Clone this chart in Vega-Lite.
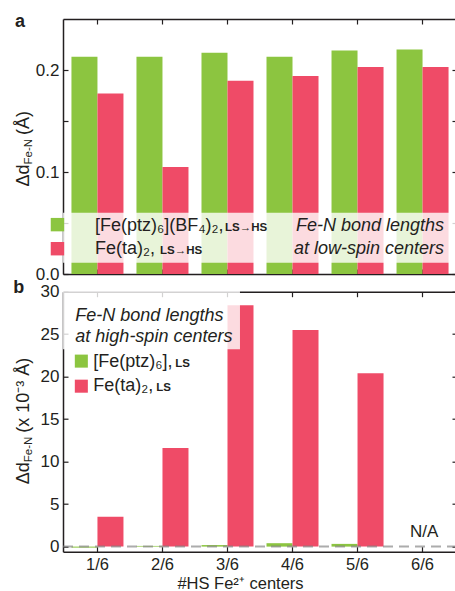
{
  "$schema": "https://vega.github.io/schema/vega-lite/v6.json",
  "background": "white",
  "padding": {"left": 13, "top": 13, "right": 0, "bottom": 0},
  "spacing": 17.7,
  "bounds": "flush",
  "config": {
    "font": "Liberation Sans",
    "view": {"stroke": null},
    "axis": {"domainColor": "#231f20", "domainWidth": 1.5, "tickColor": "#231f20", "tickWidth": 1.2, "tickSize": -5, "labelFontSize": 17, "labelColor": "#231f20", "titleColor": "#231f20", "titleFontWeight": "normal", "titleFont": "Liberation Sans", "labelFont": "Liberation Sans", "grid": false},
    "axisX": {"labelPadding": 9.5, "labelFontSize": 16.5},
    "axisY": {"labelPadding": 9},
    "text": {"font": "Liberation Sans", "color": "#231f20"}
  },
  "datasets": {
    "lowspin": [
      {"hs": "1/6", "series": "ptz", "d": 0.213}, {"hs": "1/6", "series": "ta", "d": 0.177},
      {"hs": "2/6", "series": "ptz", "d": 0.213}, {"hs": "2/6", "series": "ta", "d": 0.105},
      {"hs": "3/6", "series": "ptz", "d": 0.217}, {"hs": "3/6", "series": "ta", "d": 0.1895},
      {"hs": "4/6", "series": "ptz", "d": 0.213}, {"hs": "4/6", "series": "ta", "d": 0.194},
      {"hs": "5/6", "series": "ptz", "d": 0.219}, {"hs": "5/6", "series": "ta", "d": 0.203},
      {"hs": "6/6", "series": "ptz", "d": 0.220}, {"hs": "6/6", "series": "ta", "d": 0.203}
    ],
    "highspin": [
      {"hs": "1/6", "series": "ptz", "d": -0.12}, {"hs": "1/6", "series": "ta", "d": 3.5},
      {"hs": "2/6", "series": "ptz", "d": 0.08}, {"hs": "2/6", "series": "ta", "d": 11.6},
      {"hs": "3/6", "series": "ptz", "d": 0.18}, {"hs": "3/6", "series": "ta", "d": 28.4},
      {"hs": "4/6", "series": "ptz", "d": 0.4}, {"hs": "4/6", "series": "ta", "d": 25.5},
      {"hs": "5/6", "series": "ptz", "d": 0.32}, {"hs": "5/6", "series": "ta", "d": 20.4}
    ],
    "legA": [
      {"series": "ptz", "hs": "1/6", "label": "[Fe(ptz)₆](BF₄)₂,", "tag": "LS→HS", "ty": 0.0425, "sy": 0.0484},
      {"series": "ta", "hs": "1/6", "label": "Fe(ta)₂,", "tag": "LS→HS", "ty": 0.02, "sy": 0.0248}
    ],
    "notesA": [
      {"hs": "6/6", "note": "Fe-N bond lengths", "ny": 0.0425},
      {"hs": "6/6", "note": "at low-spin centers", "ny": 0.02}
    ],
    "legB": [
      {"series": "ptz", "hs": "1/6", "label": "[Fe(ptz)₆],", "tag": "LS", "ty": 21.08, "sy": 21.83},
      {"series": "ta", "hs": "1/6", "label": "Fe(ta)₂,", "tag": "LS", "ty": 18.33, "sy": 18.88}
    ],
    "notesB": [
      {"hs": "1/6", "note": "Fe-N bond lengths", "ny": 26.6},
      {"hs": "1/6", "note": "at high-spin centers", "ny": 24.03}
    ],
    "naB": [
      {"hs": "6/6", "note": "N/A", "ny": 1.1}
    ],
    "panelA": [{"hs": "1/6", "p": "a"}],
    "panelB": [{"hs": "1/6", "p": "b"}]
  },
  "vconcat": [
    {
      "width": 394,
      "height": 255,
      "resolve": {"axis": {"x": "independent", "y": "independent"}},
      "layer": [
        {
          "data": {"name": "lowspin"},
          "mark": {"type": "bar"},
          "encoding": {
            "x": {"field": "hs", "type": "nominal", "scale": {"domain": ["1/6", "2/6", "3/6", "4/6", "5/6", "6/6"], "paddingInner": 0.2, "paddingOuter": 0.13}, "axis": {"orient": "bottom", "labels": false, "title": null}},
            "xOffset": {"field": "series", "type": "nominal", "scale": {"domain": ["ptz", "ta"], "paddingInner": 0, "paddingOuter": 0}},
            "y": {"field": "d", "type": "quantitative", "scale": {"domain": [0, 0.25], "nice": false}, "axis": {"orient": "left", "values": [0, 0.05, 0.1, 0.15, 0.2], "labelExpr": "(abs(datum.value) < 0.001 || abs(datum.value - 0.1) < 0.001 || abs(datum.value - 0.2) < 0.001) ? format(datum.value, '.1f') : ''", "title": "Δd", "titleX": -34.5, "titleY": 167, "titleAngle": 270, "titleAlign": "left", "titleBaseline": "alphabetic", "titleFontSize": 18}},
            "color": {"field": "series", "type": "nominal", "scale": {"domain": ["ptz", "ta"], "range": ["#8cc540", "#ef4b67"]}, "legend": null}
          }
        },
        {
          "data": {"name": "lowspin"},
          "mark": {"type": "bar", "opacity": 0},
          "encoding": {
            "x": {"field": "hs", "type": "nominal", "axis": {"orient": "top", "labels": false, "title": "Fe-N", "titleX": -31.5, "titleY": 145, "titleAngle": 270, "titleAlign": "left", "titleBaseline": "alphabetic", "titleFontSize": 11.5}},
            "xOffset": {"field": "series", "type": "nominal"},
            "y": {"field": "d", "type": "quantitative", "axis": {"orient": "right", "values": [0, 0.05, 0.1, 0.15, 0.2], "labels": false, "title": "(Å)", "titleX": -428.5, "titleY": 115.5, "titleAngle": 270, "titleAlign": "left", "titleBaseline": "alphabetic", "titleFontSize": 18}}
          }
        },
        {
          "data": {"values": [{}]},
          "mark": {"type": "rect", "color": "white", "opacity": 0.8},
          "encoding": {
            "y": {"datum": 0.011, "type": "quantitative", "axis": null},
            "y2": {"datum": 0.06}
          }
        },
        {
          "data": {"name": "legA"},
          "mark": {"type": "square", "size": 180, "opacity": 1},
          "encoding": {
            "x": {"field": "hs", "type": "nominal", "axis": null},
            "xOffset": {"value": -14},
            "y": {"field": "sy", "type": "quantitative", "axis": null},
            "color": {"field": "series", "type": "nominal", "legend": null}
          }
        },
        {
          "data": {"name": "legA"},
          "mark": {"type": "text", "align": "left", "baseline": "alphabetic", "dx": -2.5, "fontSize": 18},
          "encoding": {
            "x": {"field": "hs", "type": "nominal", "axis": null},
            "y": {"field": "ty", "type": "quantitative", "axis": null},
            "text": {"field": "label"}
          }
        },
        {
          "data": {"name": "legA"},
          "transform": [{"filter": "datum.series === 'ptz'"}],
          "mark": {"type": "text", "align": "left", "baseline": "alphabetic", "dx": 127.5, "fontSize": 11.5, "fontWeight": "bold"},
          "encoding": {
            "x": {"field": "hs", "type": "nominal", "axis": null},
            "y": {"field": "ty", "type": "quantitative", "axis": null},
            "text": {"field": "tag"}
          }
        },
        {
          "data": {"name": "legA"},
          "transform": [{"filter": "datum.series === 'ta'"}],
          "mark": {"type": "text", "align": "left", "baseline": "alphabetic", "dx": 62.5, "fontSize": 11.5, "fontWeight": "bold"},
          "encoding": {
            "x": {"field": "hs", "type": "nominal", "axis": null},
            "y": {"field": "ty", "type": "quantitative", "axis": null},
            "text": {"field": "tag"}
          }
        },
        {
          "data": {"name": "notesA"},
          "mark": {"type": "text", "align": "right", "baseline": "alphabetic", "dx": 21.5, "fontSize": 18, "fontStyle": "italic"},
          "encoding": {
            "x": {"field": "hs", "type": "nominal", "axis": null},
            "y": {"field": "ny", "type": "quantitative", "axis": null},
            "text": {"field": "note"}
          }
        },
        {
          "data": {"name": "panelA"},
          "mark": {"type": "text", "align": "left", "baseline": "alphabetic", "dx": -82.5, "dy": 8, "fontSize": 18, "fontWeight": "bold"},
          "encoding": {
            "x": {"field": "hs", "type": "nominal", "axis": null},
            "y": {"datum": 0.25, "type": "quantitative", "axis": null},
            "text": {"field": "p"}
          }
        }
      ]
    },
    {
      "width": 394,
      "height": 260,
      "resolve": {"scale": {"x": "independent"}, "axis": {"x": "independent", "y": "independent"}},
      "layer": [
        {
          "data": {"name": "highspin"},
          "mark": {"type": "bar"},
          "encoding": {
            "x": {"field": "hs", "type": "nominal", "scale": {"domain": ["1/6", "2/6", "3/6", "4/6", "5/6", "6/6"], "paddingInner": 0.2, "paddingOuter": 0.13}, "axis": {"orient": "bottom", "labelAngle": 0, "title": "#HS Fe²⁺ centers", "titleX": 177, "titleY": 36.5, "titleAlign": "center", "titleBaseline": "alphabetic", "titleFontSize": 16.5}},
            "xOffset": {"field": "series", "type": "nominal", "scale": {"domain": ["ptz", "ta"], "paddingInner": 0, "paddingOuter": 0}},
            "y": {"field": "d", "type": "quantitative", "scale": {"domain": [-0.6, 30], "nice": false, "zero": false}, "axis": {"orient": "left", "values": [0, 5, 10, 15, 20, 25, 30], "format": "d", "title": "Δd", "titleX": -34.5, "titleY": 192, "titleAngle": 270, "titleAlign": "left", "titleBaseline": "alphabetic", "titleFontSize": 18}},
            "color": {"field": "series", "type": "nominal", "scale": {"domain": ["ptz", "ta"], "range": ["#8cc540", "#ef4b67"]}, "legend": null}
          }
        },
        {
          "data": {"name": "highspin"},
          "mark": {"type": "bar", "opacity": 0},
          "encoding": {
            "x": {"field": "hs", "type": "nominal", "scale": {"domain": ["1/6", "2/6", "3/6", "4/6", "5/6", "6/6"], "paddingInner": 0.2, "paddingOuter": 0.13}, "axis": {"orient": "top", "labels": false, "title": "Fe-N", "titleX": -31.5, "titleY": 170, "titleAngle": 270, "titleAlign": "left", "titleBaseline": "alphabetic", "titleFontSize": 11.5}},
            "xOffset": {"field": "series", "type": "nominal", "scale": {"domain": ["ptz", "ta"], "paddingInner": 0, "paddingOuter": 0}},
            "y": {"field": "d", "type": "quantitative", "axis": {"orient": "right", "values": [0, 5, 10, 15, 20, 25, 30], "labels": false, "title": "(x 10⁻³ Å)", "titleX": -428.5, "titleY": 140.5, "titleAngle": 270, "titleAlign": "left", "titleBaseline": "alphabetic", "titleFontSize": 18}}
          }
        },
        {
          "data": {"values": [{}]},
          "mark": {"type": "rule", "color": "#7f7f7f", "opacity": 0.65, "strokeWidth": 2, "strokeDash": [10, 6]},
          "encoding": {
            "y": {"datum": 0, "type": "quantitative", "axis": null}
          }
        },
        {
          "data": {"values": [{}]},
          "mark": {"type": "rect", "color": "white", "opacity": 0.8},
          "encoding": {
            "x": {"datum": 0, "type": "quantitative", "scale": {"domain": [0, 6], "nice": false, "zero": false}, "axis": null},
            "x2": {"datum": 2.695},
            "y": {"datum": 23.24, "type": "quantitative", "axis": null},
            "y2": {"datum": 30.6}
          }
        },
        {
          "data": {"name": "notesB"},
          "mark": {"type": "text", "align": "left", "baseline": "alphabetic", "dx": -20.5, "fontSize": 18, "fontStyle": "italic"},
          "encoding": {
            "x": {"field": "hs", "type": "nominal", "scale": {"domain": ["1/6", "2/6", "3/6", "4/6", "5/6", "6/6"], "paddingInner": 0.2, "paddingOuter": 0.13}, "axis": null},
            "y": {"field": "ny", "type": "quantitative", "axis": null},
            "text": {"field": "note"}
          }
        },
        {
          "data": {"name": "legB"},
          "mark": {"type": "square", "size": 170, "opacity": 1},
          "encoding": {
            "x": {"field": "hs", "type": "nominal", "scale": {"domain": ["1/6", "2/6", "3/6", "4/6", "5/6", "6/6"], "paddingInner": 0.2, "paddingOuter": 0.13}, "axis": null},
            "xOffset": {"value": -14.5},
            "y": {"field": "sy", "type": "quantitative", "axis": null},
            "color": {"field": "series", "type": "nominal", "legend": null}
          }
        },
        {
          "data": {"name": "legB"},
          "mark": {"type": "text", "align": "left", "baseline": "alphabetic", "dx": -2.5, "fontSize": 18},
          "encoding": {
            "x": {"field": "hs", "type": "nominal", "scale": {"domain": ["1/6", "2/6", "3/6", "4/6", "5/6", "6/6"], "paddingInner": 0.2, "paddingOuter": 0.13}, "axis": null},
            "y": {"field": "ty", "type": "quantitative", "axis": null},
            "text": {"field": "label"}
          }
        },
        {
          "data": {"name": "legB"},
          "transform": [{"filter": "datum.series === 'ptz'"}],
          "mark": {"type": "text", "align": "left", "baseline": "alphabetic", "dx": 79.5, "fontSize": 11.5, "fontWeight": "bold"},
          "encoding": {
            "x": {"field": "hs", "type": "nominal", "scale": {"domain": ["1/6", "2/6", "3/6", "4/6", "5/6", "6/6"], "paddingInner": 0.2, "paddingOuter": 0.13}, "axis": null},
            "y": {"field": "ty", "type": "quantitative", "axis": null},
            "text": {"field": "tag"}
          }
        },
        {
          "data": {"name": "legB"},
          "transform": [{"filter": "datum.series === 'ta'"}],
          "mark": {"type": "text", "align": "left", "baseline": "alphabetic", "dx": 60.5, "fontSize": 11.5, "fontWeight": "bold"},
          "encoding": {
            "x": {"field": "hs", "type": "nominal", "scale": {"domain": ["1/6", "2/6", "3/6", "4/6", "5/6", "6/6"], "paddingInner": 0.2, "paddingOuter": 0.13}, "axis": null},
            "y": {"field": "ty", "type": "quantitative", "axis": null},
            "text": {"field": "tag"}
          }
        },
        {
          "data": {"name": "naB"},
          "mark": {"type": "text", "align": "center", "baseline": "alphabetic", "fontSize": 17},
          "encoding": {
            "x": {"field": "hs", "type": "nominal", "scale": {"domain": ["1/6", "2/6", "3/6", "4/6", "5/6", "6/6"], "paddingInner": 0.2, "paddingOuter": 0.13}, "axis": null},
            "y": {"field": "ny", "type": "quantitative", "axis": null},
            "text": {"field": "note"}
          }
        },
        {
          "data": {"name": "panelB"},
          "mark": {"type": "text", "align": "left", "baseline": "alphabetic", "dx": -82.5, "dy": 6.5, "fontSize": 18, "fontWeight": "bold"},
          "encoding": {
            "x": {"field": "hs", "type": "nominal", "scale": {"domain": ["1/6", "2/6", "3/6", "4/6", "5/6", "6/6"], "paddingInner": 0.2, "paddingOuter": 0.13}, "axis": null},
            "y": {"datum": 30.6, "type": "quantitative", "axis": null},
            "text": {"field": "p"}
          }
        }
      ]
    }
  ]
}
